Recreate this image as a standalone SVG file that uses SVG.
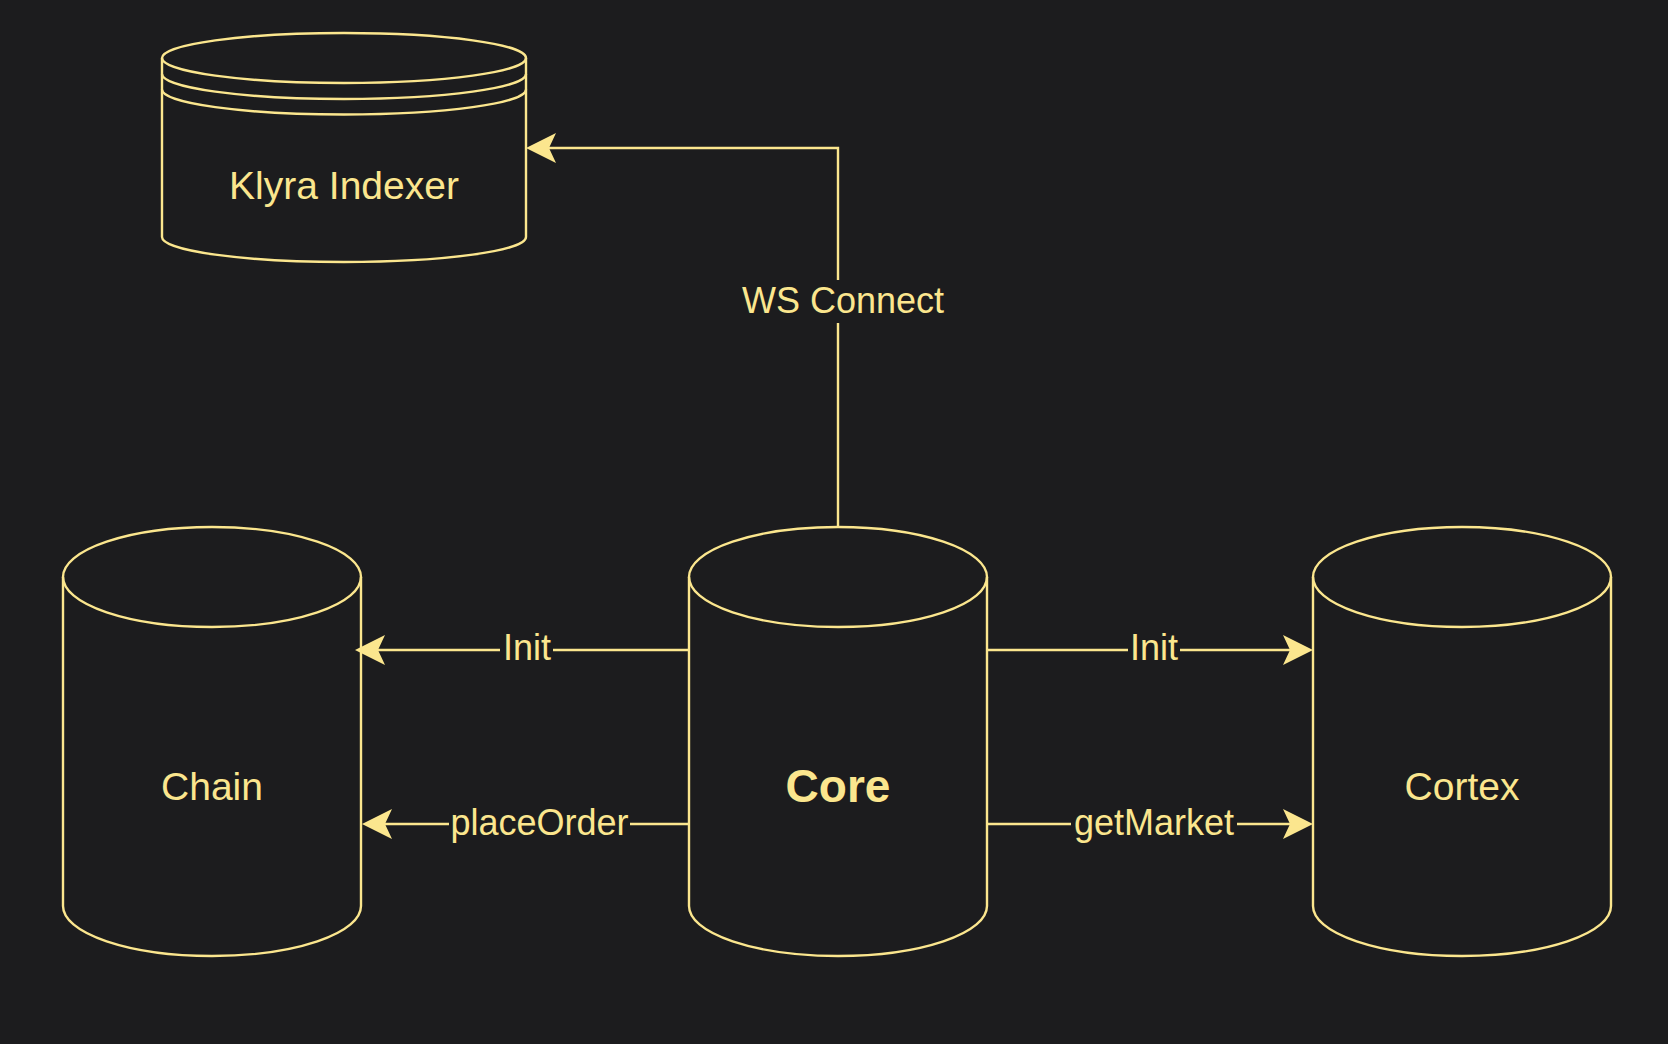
<svg xmlns="http://www.w3.org/2000/svg" width="1668" height="1044" viewBox="0 0 1668 1044">
  <style>
    .shape { fill: #1C1C1E; stroke: #FBE68E; stroke-width: 2.4; }
    .line { fill: none; stroke: #FBE68E; stroke-width: 2.4; }
    .node-label { fill: #FBE68E; font-family: "Liberation Sans", Arial, Helvetica, sans-serif; font-size: 39px; text-anchor: middle; }
    .bold { font-weight: bold; font-size: 46px; }
    .edge-label { fill: #FBE68E; font-family: "Liberation Sans", Arial, Helvetica, sans-serif; font-size: 36px; text-anchor: middle; }
    .label-bg { fill: #1C1C1E; }
  </style>
  <defs>
    <marker id="arrow" markerUnits="userSpaceOnUse" viewBox="-8 -16 32 32" markerWidth="32" markerHeight="32" refX="0" refY="0" orient="auto">
      <path d="M23,0 L-7,-15 L0,0 L-7,15 Z" fill="#FBE68E" stroke="none"/>
    </marker>
  </defs>
  <rect x="0" y="0" width="1668" height="1044" fill="#1C1C1E"/>

  <g id="klyra-indexer">
    <path class="shape" d="M162,58 A182,25 0 0 1 526,58 L526,237 A182,25 0 0 1 162,237 Z"/>
    <path class="line" d="M162,58 A182,25 0 0 0 526,58"/>
    <path class="line" d="M162,74 A182,25 0 0 0 526,74"/>
    <path class="line" d="M162,89.5 A182,25 0 0 0 526,89.5"/>
    <text class="node-label" x="344" y="199">Klyra Indexer</text>
  </g>

  <g id="chain">
    <path class="shape" d="M63,577 A149,50 0 0 1 361,577 L361,906 A149,50 0 0 1 63,906 Z"/>
    <path class="line" d="M63,577 A149,50 0 0 0 361,577"/>
    <text class="node-label" x="212" y="800">Chain</text>
  </g>

  <g id="core">
    <path class="shape" d="M689,577 A149,50 0 0 1 987,577 L987,906 A149,50 0 0 1 689,906 Z"/>
    <path class="line" d="M689,577 A149,50 0 0 0 987,577"/>
    <text class="node-label bold" x="838" y="802">Core</text>
  </g>

  <g id="cortex">
    <path class="shape" d="M1313,577 A149,50 0 0 1 1611,577 L1611,906 A149,50 0 0 1 1313,906 Z"/>
    <path class="line" d="M1313,577 A149,50 0 0 0 1611,577"/>
    <text class="node-label" x="1462" y="800">Cortex</text>
  </g>

  <g id="connectors">
    <path class="line" d="M838,527 L838,148 L549,148" marker-end="url(#arrow)"/>
    <rect class="label-bg" x="742" y="280" width="203" height="43"/>
    <text class="edge-label" x="843" y="313">WS Connect</text>

    <path class="line" d="M689,650 L378,650" marker-end="url(#arrow)"/>
    <rect class="label-bg" x="500" y="632" width="53" height="36"/>
    <text class="edge-label" x="527" y="660">Init</text>

    <path class="line" d="M689,824 L385,824" marker-end="url(#arrow)"/>
    <rect class="label-bg" x="449" y="806" width="181" height="36"/>
    <text class="edge-label" x="539.5" y="835">placeOrder</text>

    <path class="line" d="M987,650 L1290,650" marker-end="url(#arrow)"/>
    <rect class="label-bg" x="1128" y="632" width="52" height="36"/>
    <text class="edge-label" x="1154" y="660">Init</text>

    <path class="line" d="M987,824 L1290,824" marker-end="url(#arrow)"/>
    <rect class="label-bg" x="1071" y="806" width="166" height="36"/>
    <text class="edge-label" x="1154" y="835">getMarket</text>
  </g>
</svg>
